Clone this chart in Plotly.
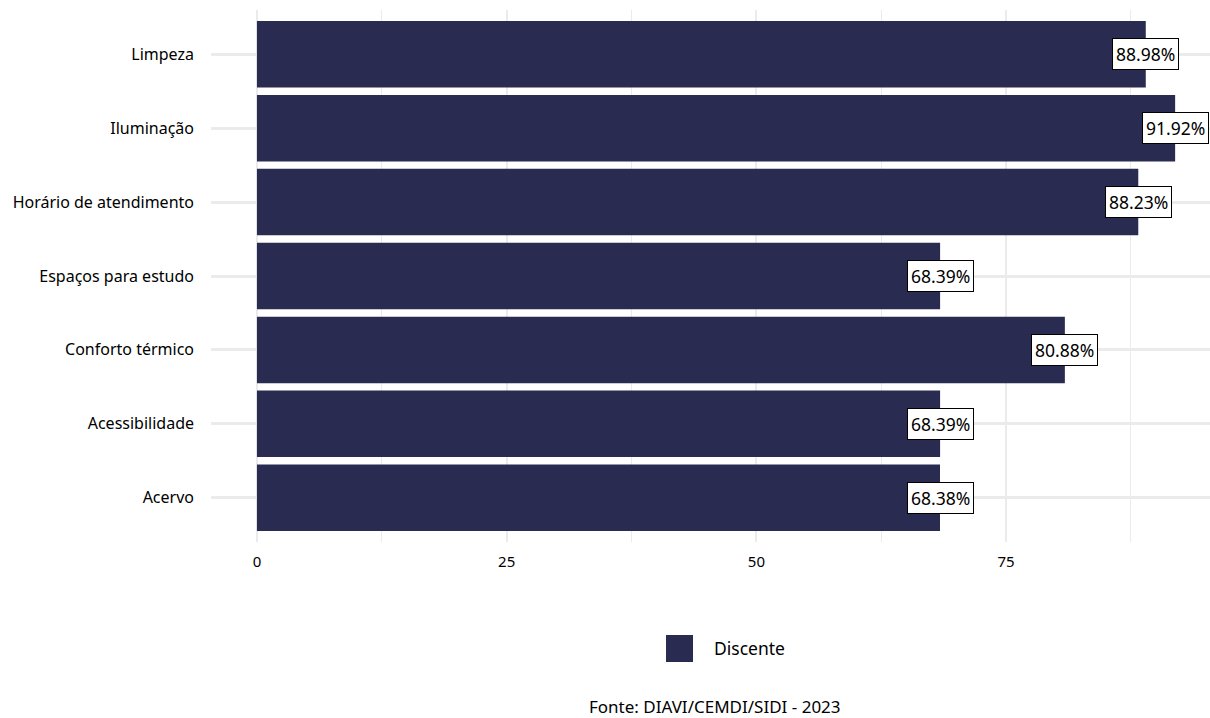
import plotly.graph_objects as go

categories = ["Acervo", "Acessibilidade", "Conforto térmico", "Espaços para estudo",
              "Horário de atendimento", "Iluminação", "Limpeza"]
values = [68.38, 68.39, 80.88, 68.39, 88.23, 91.92, 88.98]
series_name = "Discente"
x_ticks = [0, 25, 50, 75]
caption = "Fonte: DIAVI/CEMDI/SIDI - 2023"

bar_color = "#292b50"
font_family = "Noto Sans, Open Sans, sans-serif"

W, H = 1210, 718
PL, PR, PT, PB = 211, 1210, 10, 542  # plot area in pixels


def px_x(px):
    return (px - PL) / (PR - PL)


def px_y(py):
    return (PB - py) / (PB - PT)


fig = go.Figure()
fig.add_trace(go.Bar(
    x=values, y=categories, orientation="h",
    marker=dict(color=bar_color, line=dict(width=0)),
    width=0.9, name=series_name, showlegend=False,
))

for c, v in zip(categories, values):
    fig.add_annotation(
        x=v, y=c, text=f"{v:.2f}%", showarrow=False,
        xanchor="center", yanchor="middle",
        bgcolor="white", bordercolor="black", borderwidth=1, borderpad=3,
        font=dict(family=font_family, size=17.5, color="black"),
    )

# legend key
fig.add_shape(type="rect", xref="paper", yref="paper",
              x0=px_x(666), x1=px_x(693), y0=px_y(662), y1=px_y(635),
              fillcolor=bar_color, line=dict(width=0))
fig.add_annotation(xref="paper", yref="paper", x=px_x(712), y=px_y(648),
                   text=series_name, showarrow=False, xanchor="left", yanchor="middle",
                   font=dict(family=font_family, size=17.5, color="black"))
fig.add_annotation(xref="paper", yref="paper", x=px_x(715), y=px_y(706),
                   text=caption, showarrow=False, xanchor="center", yanchor="middle",
                   borderpad=0,
                   font=dict(family=font_family, size=17, color="black"))

fig.update_layout(
    width=W, height=H,
    margin=dict(l=PL, r=W - PR, t=PT, b=H - PB),
    plot_bgcolor="white", paper_bgcolor="white",
    font=dict(family=font_family, size=16, color="black"),
    bargap=0.1,
    showlegend=False,
)
fig.update_xaxes(
    range=[-4.6, 95.41], tickvals=x_ticks, ticktext=[str(t) for t in x_ticks],
    showgrid=True, gridcolor="#ebebeb", gridwidth=2, zeroline=False,
    showline=False, ticks="", ticklabelstandoff=9,
    minor=dict(tickvals=[12.5, 37.5, 62.5, 87.5], showgrid=True, gridcolor="#ebebeb", gridwidth=1),
    tickfont=dict(size=15, color="black"),
)
fig.update_yaxes(
    categoryorder="array", categoryarray=categories, range=[-0.6, 6.6],
    showgrid=True, gridcolor="#ebebeb", gridwidth=3, zeroline=False,
    showline=False, ticks="", ticklabelstandoff=16,
    tickfont=dict(size=16, color="black"),
)

fig.write_html(
    "out.html",
    config={"displayModeBar": False},
    post_script="document.documentElement.style.margin='0';document.body.style.margin='0';"
                "document.body.style.overflow='hidden';",
)
